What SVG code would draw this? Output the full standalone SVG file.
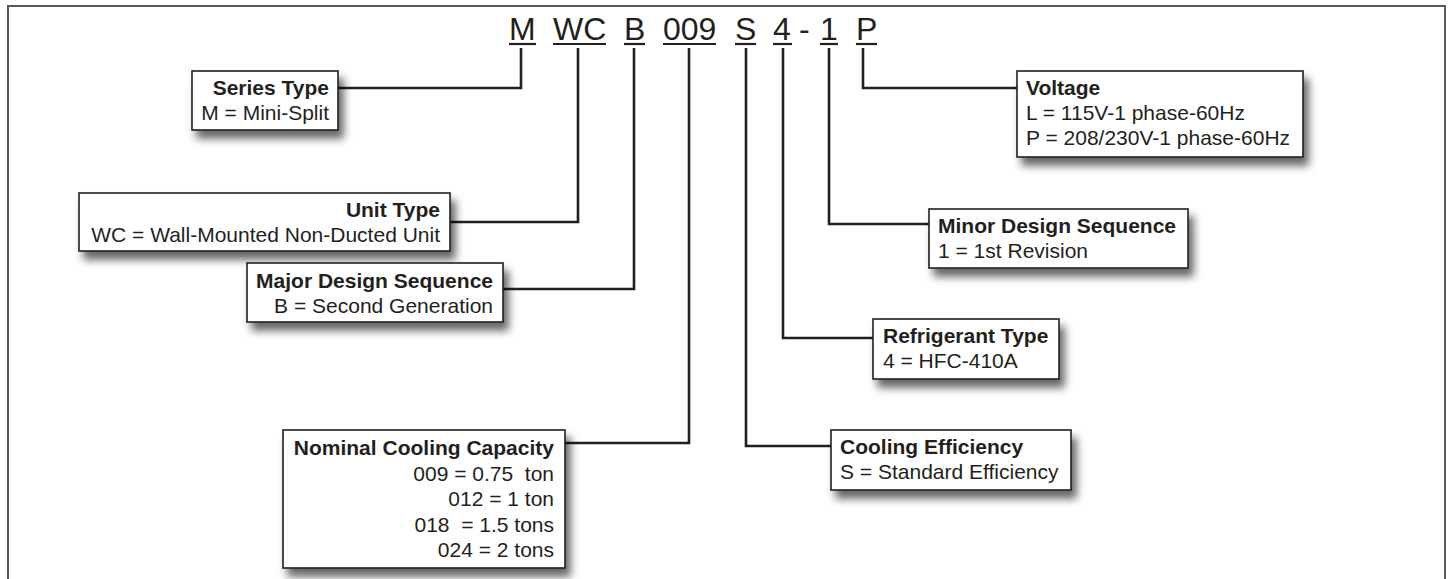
<svg xmlns="http://www.w3.org/2000/svg" width="1448" height="579" viewBox="0 0 1448 579">
<style>
.frame{fill:none;stroke:#5a5a5c;stroke-width:2}
.box{fill:#fff;stroke:#231f20;stroke-width:1.6}
.t{font-family:"Liberation Sans",Arial,sans-serif;font-size:21px;fill:#231f20}
.b{font-weight:bold}
.r{text-anchor:end}
.code{font-family:"Liberation Sans",Arial,sans-serif;font-size:32px;fill:#231f20}
.ul{stroke:#231f20;stroke-width:2.2}
.conn{fill:none;stroke:#231f20;stroke-width:2.6}
</style>
<defs>
<filter id="sh" x="-10%" y="-20%" width="130%" height="160%">
<feDropShadow dx="5" dy="8" stdDeviation="4.5" flood-color="#000" flood-opacity="0.6"/>
</filter>
</defs>
<rect width="1448" height="579" fill="#fff"/>
<path class="frame" d="M8 590 V6 H1445 V590"/>

<g id="code">
<text class="code" x="509" y="40">M</text>
<text class="code" x="553" y="40">WC</text>
<text class="code" x="624" y="40">B</text>
<text class="code" x="663" y="40">009</text>
<text class="code" x="735" y="40">S</text>
<text class="code" x="773" y="40">4</text>
<text class="code" x="799" y="40">-</text>
<text class="code" x="820" y="40">1</text>
<text class="code" x="856" y="40">P</text>
<line class="ul" x1="509" y1="44" x2="536" y2="44"/>
<line class="ul" x1="553" y1="44" x2="606" y2="44"/>
<line class="ul" x1="624" y1="44" x2="645" y2="44"/>
<line class="ul" x1="663" y1="44" x2="716" y2="44"/>
<line class="ul" x1="735" y1="44" x2="756" y2="44"/>
<line class="ul" x1="773" y1="44" x2="792" y2="44"/>
<line class="ul" x1="820" y1="44" x2="838" y2="44"/>
<line class="ul" x1="856" y1="44" x2="877" y2="44"/>
</g>

<g id="connectors">
<path class="conn" d="M521 48 V88 H338"/>
<path class="conn" d="M578 48 V222 H450"/>
<path class="conn" d="M634 48 V289 H503"/>
<path class="conn" d="M689 48 V443 H564"/>
<path class="conn" d="M746 48 V446 H831"/>
<path class="conn" d="M783 48 V338 H873"/>
<path class="conn" d="M829 48 V224 H929"/>
<path class="conn" d="M863 48 V88 H1017"/>
</g>

<g id="series-type">
<rect class="box" filter="url(#sh)" x="192" y="71" width="146" height="59"/>
<text class="t b r" x="329" y="95">Series Type</text>
<text class="t r" x="329" y="120">M = Mini-Split</text>
</g>

<g id="unit-type">
<rect class="box" filter="url(#sh)" x="79" y="193" width="371" height="58"/>
<text class="t b r" x="440" y="217">Unit Type</text>
<text class="t r" x="440" y="242">WC = Wall-Mounted Non-Ducted Unit</text>
</g>

<g id="major-design">
<rect class="box" filter="url(#sh)" x="247" y="263" width="256" height="59"/>
<text class="t b r" x="493" y="288">Major Design Sequence</text>
<text class="t r" x="493" y="313">B = Second Generation</text>
</g>

<g id="nominal-capacity">
<rect class="box" filter="url(#sh)" x="283" y="430" width="282" height="138"/>
<text class="t b r" x="554" y="455">Nominal Cooling Capacity</text>
<text class="t r" x="554" y="480.5" xml:space="preserve" style="white-space:pre">009 = 0.75  ton</text>
<text class="t r" x="554" y="506">012 = 1 ton</text>
<text class="t r" x="554" y="531.5" xml:space="preserve" style="white-space:pre">018  = 1.5 tons</text>
<text class="t r" x="554" y="557">024 = 2 tons</text>
</g>

<g id="voltage">
<rect class="box" filter="url(#sh)" x="1017" y="71" width="286" height="86"/>
<text class="t b" x="1026" y="95">Voltage</text>
<text class="t" x="1026" y="120">L = 115V-1 phase-60Hz</text>
<text class="t" x="1026" y="145">P = 208/230V-1 phase-60Hz</text>
</g>

<g id="minor-design">
<rect class="box" filter="url(#sh)" x="929" y="209" width="259" height="59"/>
<text class="t b" x="938" y="233">Minor Design Sequence</text>
<text class="t" x="938" y="258">1 = 1st Revision</text>
</g>

<g id="refrigerant-type">
<rect class="box" filter="url(#sh)" x="873" y="319" width="186" height="60"/>
<text class="t b" x="883" y="343">Refrigerant Type</text>
<text class="t" x="883" y="368">4 = HFC-410A</text>
</g>

<g id="cooling-efficiency">
<rect class="box" filter="url(#sh)" x="831" y="430" width="240" height="60"/>
<text class="t b" x="840" y="454">Cooling Efficiency</text>
<text class="t" x="840" y="479">S = Standard Efficiency</text>
</g>
</svg>
